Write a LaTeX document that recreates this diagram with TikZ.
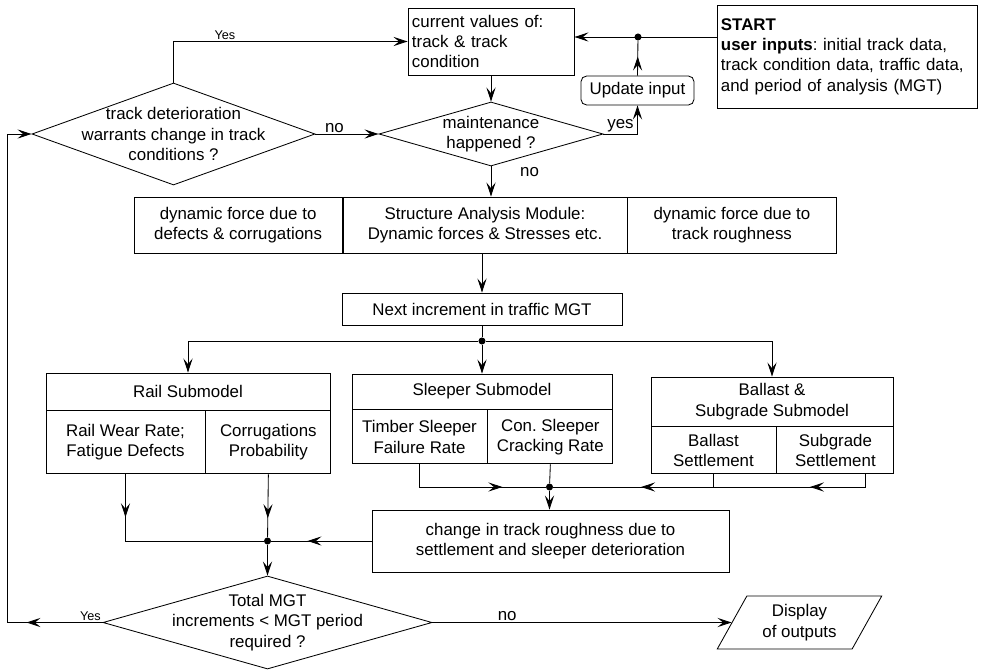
\documentclass[tikz,border=0pt]{standalone}
\usepackage{fontspec}
\setmainfont{Liberation Sans}
\usepackage{tikz}
\usetikzlibrary{positioning}
\usetikzlibrary{arrows.meta}
\usetikzlibrary{shapes.geometric}
\usetikzlibrary{decorations.markings}
\frenchspacing

\tikzset{
    box/.style={shape=rectangle, draw=black, inner sep=2pt, align=center},
    decision/.style={shape=diamond, draw=black, inner sep=0pt},
    dot/.style={shape=circle, fill=black, inner sep=0pt, minimum size=5pt},
    arr/.style={-{Stealth[length=10pt, width=6.5pt, inset=4pt]}},
    midarr/.style={postaction={decorate, decoration={markings, mark=at position #1 with {\arrow{Stealth[length=10pt, width=6.5pt, inset=4pt]}}}}},
    lbl/.style={font=\fontsize{9}{10}\selectfont, inner sep=1pt},
}

\begin{document}
\begin{tikzpicture}[x=0.025cm, y=-0.025cm, line width=0.6pt, every node/.style={font=\fontsize{12}{14.5}\selectfont}]
    \useasboundingbox (0,0) rectangle (981,670);

    \node[box, minimum width=4.15cm, minimum height=1.675cm, text width=3.95cm, align=left] (cur) at (491,41.5) {current values of:\\track \& track\\condition};
    \node[box, minimum width=6.5cm, minimum height=2.575cm, text width=6.3cm, align=left] (start) at (847,56.5) {\textbf{START}\\\textbf{user inputs}: initial track data,\\track condition data, traffic data,\\and period of analysis (MGT)};
    \node[box, rounded corners=4pt, minimum width=2.825cm, minimum height=0.725cm] (update) at (637.5,90.5) {Update input};
    \node[dot] (sdot) at (638,37) {};

    \node[decision, minimum width=7.075cm, minimum height=2.55cm, label={[align=center]center:track deterioration\\warrants change in track\\conditions ?}] (warrant) at (173.5,134) {};
    \node[decision, minimum width=5.6cm, minimum height=1.6cm, label={[align=center]center:maintenance\\happened ?}] (maint) at (491,134) {};

    \node[box, minimum width=7.1cm, minimum height=1.4cm] (sam) at (485,225) {Structure Analysis Module:\\Dynamic forces \& Stresses etc.};
    \node[box, minimum width=5.2cm, minimum height=1.4cm, left=0pt of sam] (defects) {dynamic force due to\\defects \& corrugations};
    \node[box, minimum width=5.2cm, minimum height=1.4cm, right=0pt of sam] (rough) {dynamic force due to\\track roughness};

    \node[box, minimum width=7cm, minimum height=0.8cm] (next) at (482,309) {Next increment in traffic MGT};
    \node[dot] (split) at (482,341) {};

    % submodels
    \node[box, minimum width=7.1cm, minimum height=0.925cm] (railH) at (188,391.5) {Rail Submodel};
    \node[box, minimum width=3.975cm, minimum height=1.575cm, below right=0pt of railH.south west] (railA) {Rail Wear Rate;\\Fatigue Defects};
    \node[box, minimum width=3.125cm, minimum height=1.575cm, right=0pt of railA] (railB) {Corrugations\\Probability};

    \node[box, minimum width=6.5cm, minimum height=0.875cm] (sleepH) at (482,391.5) {Sleeper Submodel};
    \node[box, minimum width=3.375cm, minimum height=1.35cm, below right=0pt of sleepH.south west] (sleepA) {Timber Sleeper\\Failure Rate};
    \node[box, minimum width=3.125cm, minimum height=1.35cm, right=0pt of sleepA] (sleepB) {Con. Sleeper\\Cracking Rate};

    \node[box, minimum width=6.05cm, minimum height=1.225cm] (balH) at (772,401.5) {Ballast \&\\Subgrade Submodel};
    \node[box, minimum width=3.125cm, minimum height=1.175cm, below right=0pt of balH.south west] (balA) {Ballast\\Settlement};
    \node[box, minimum width=2.925cm, minimum height=1.175cm, right=0pt of balA] (balB) {Subgrade\\Settlement};

    \node[dot] (mergeS) at (549.5,487) {};
    \node[box, minimum width=8.925cm, minimum height=1.55cm] (change) at (550.5,541) {change in track roughness due to\\settlement and sleeper deterioration};
    \node[dot] (mergeR) at (267.5,541) {};

    \node[decision, minimum width=8.225cm, minimum height=2.325cm, label={[align=center]center:Total MGT\\increments < MGT period\\required ?}] (total) at (267.5,622.5) {};
    \node[shape=trapezium, draw=black, trapezium left angle=60, trapezium right angle=120, trapezium stretches=true, minimum width=4.125cm, minimum height=1.325cm, inner sep=0pt, align=center] (display) at (799.5,622.5) {Display\\of outputs};
    \coordinate (loopL) at (7,622.5);

    % connectors
    \draw[arr] (sdot -| start.west) -- (sdot -| cur.east);
    \draw[midarr=0.55] (update.north) -- (sdot);
    \draw[arr] (maint.east) -| node[pos=0.25, above, inner sep=1pt] {yes} (update.south);
    \draw[arr] (cur.south) -- (maint.north);
    \draw[arr] (warrant.east) -- node[pos=0.3, above, inner sep=1pt] {no} (maint.west);
    \draw[arr] (warrant.north) |- node[pos=0.61, above, lbl] {Yes} (cur.west);
    \draw[arr] (maint.south) -- node[pos=0.2, right=0.6cm] {no} (maint.south |- sam.north);

    \draw[arr] (next.north |- sam.south) -- (next.north);
    \draw (next.south) -- (split);
    \draw[arr] (split) -| (railH.north);
    \draw[arr] (split) -- (sleepH.north);
    \draw[arr] (split) -| (balH.north);

    \draw[midarr=0.71] (sleepA.south) |- (mergeS);
    \draw (sleepB.south) -- (mergeS);
    \draw (balA.south) -- (balA.south |- mergeS);
    \draw[midarr=0.21, midarr=0.73] ([xshift=0.75cm]balB.south) |- (mergeS);
    \draw[arr] (mergeS) -- (mergeS |- change.north);

    \draw[midarr=0.21] (railA.south) |- (mergeR);
    \draw[midarr=0.7] (railB.south) -- (mergeR);
    \draw[midarr=0.64] (change.west) -- (mergeR);
    \draw[arr] (mergeR) -- (total.north);

    \draw[arr] (total.east) -- node[pos=0.25, above, inner sep=1pt] {no} (display.left side);
    \draw[arr, midarr=0.125] (total.west) node[anchor=south east, lbl] {Yes} -- (loopL) |- (warrant.west);
\end{tikzpicture}
\end{document}
